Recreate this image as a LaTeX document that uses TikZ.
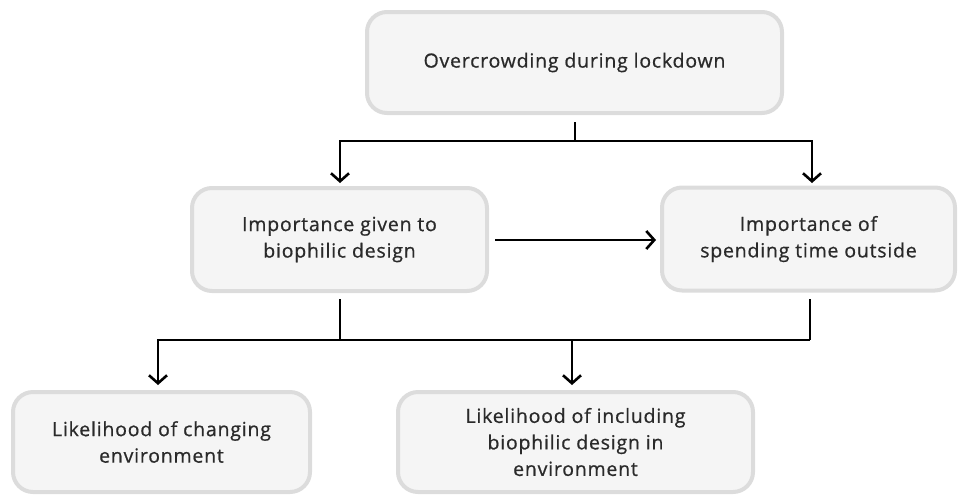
\documentclass[tikz,border=0pt]{standalone}
\usepackage{fontspec}
\setmainfont{Open Sans}
\newfontfamily\boxfont{Open Sans}[LetterSpace=4,FakeBold=0.7]
\usetikzlibrary{arrows.meta}
\definecolor{boxfill}{HTML}{F5F5F5}
\definecolor{boxline}{HTML}{DCDCDC}
\definecolor{txt}{HTML}{2A2A2A}
\begin{document}
\begin{tikzpicture}[x=1pt,y=-1pt,
  box/.style={draw=boxline, line width=4pt, fill=boxfill, rounded corners=20pt,
    align=center, text=txt, font=\boxfont\fontsize{19.5}{26.5}\selectfont, inner sep=0pt},
  conn/.style={line width=2.6pt, black},
  arr/.style={conn, -{Straight Barb[length=8pt,width=18pt,line width=2.6pt]}}]
\useasboundingbox (0,0) rectangle (963,496);
\node[box, minimum width=415pt, minimum height=101pt] (top) at (574.5,62.5) {Overcrowding during lockdown};
\node[box, minimum width=295pt, minimum height=103pt] (ml) at (339.5,239.5) {Importance given to\\biophilic design};
\node[box, minimum width=293pt, minimum height=103pt] (mr) at (808.5,239) {Importance of\\spending time outside};
\node[box, minimum width=297pt, minimum height=100pt] (bl) at (161.5,442) {Likelihood of changing\\environment};
\node[box, minimum width=355pt, minimum height=100pt] (br) at (575.5,442) {Likelihood of including\\biophilic design in\\environment};
% top fork
\coordinate (s1) at (575,122);
\coordinate (j1) at (575,141);
\coordinate (aL) at (340,183);
\coordinate (aR) at (812,183);
\draw[conn] (s1) -- (j1);
\draw[arr] (j1) -| (aL);
\draw[arr] (j1) -| (aR);
% horizontal arrow
\coordinate (h1) at (495,240);
\coordinate (h2) at (656,240);
\draw[arr] (h1) -- (h2);
% bottom fork
\coordinate (l1) at (340,299);
\coordinate (r1) at (810,299);
\coordinate (jl) at (340,340);
\coordinate (jr) at (810,340);
\coordinate (d1) at (158,385);
\coordinate (d2) at (572,385);
\draw[conn] (l1) -- (jl);
\draw[conn] (r1) -- (jr);
\draw[conn] (jl) -- (jr);
\draw[arr] (jl) -| (d1);
\draw[arr] (572,340) -- (d2);
\end{tikzpicture}
\end{document}
